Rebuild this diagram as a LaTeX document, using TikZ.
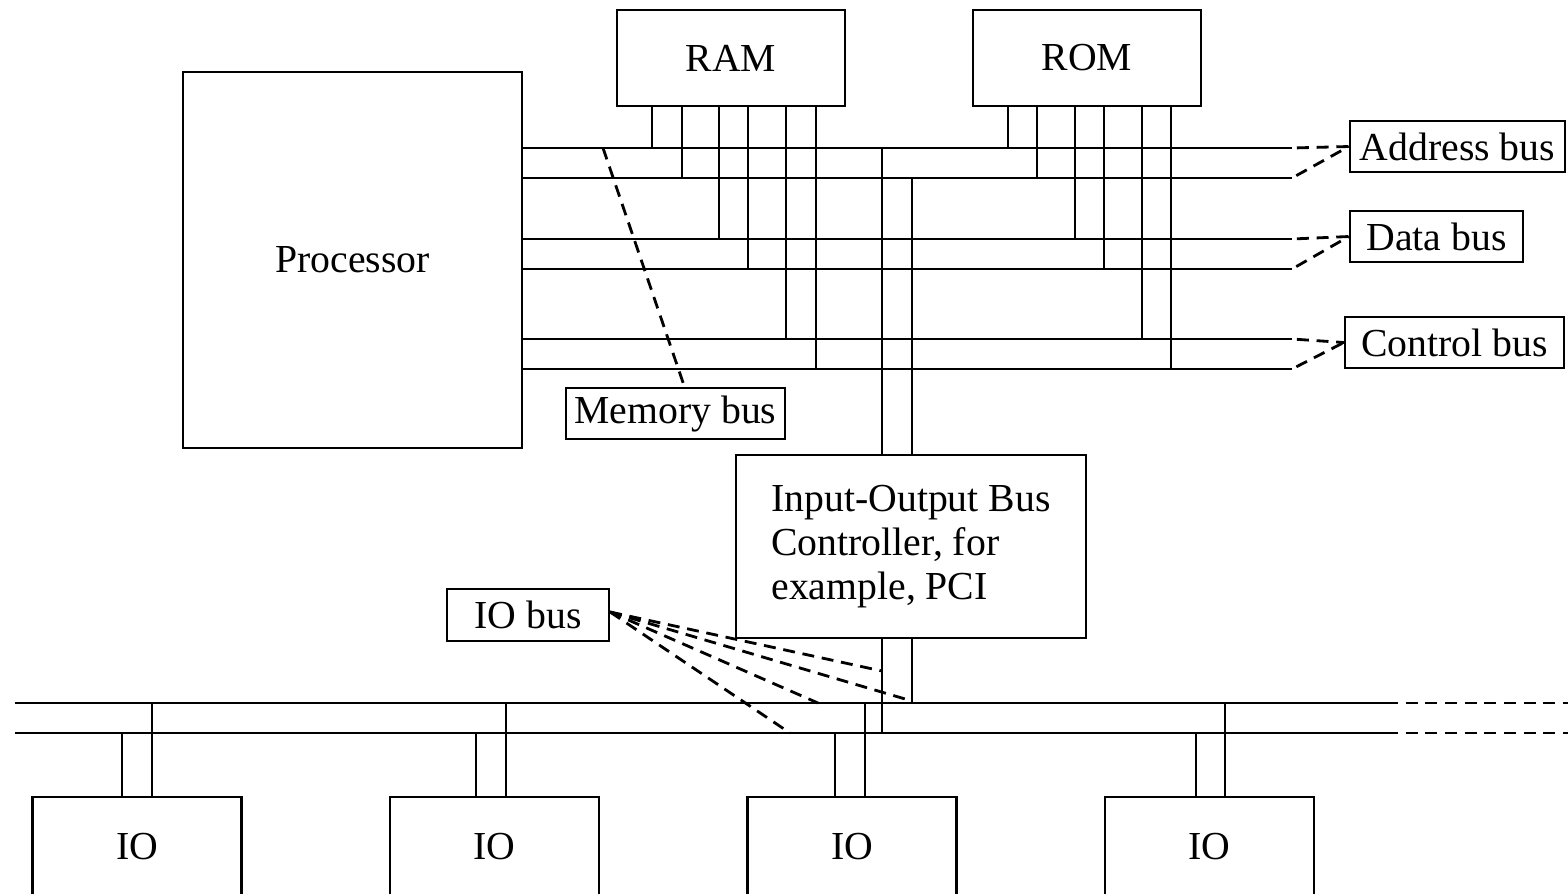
\documentclass[tikz,border=0pt]{standalone}
\usepackage{fontspec}
\setmainfont{Liberation Serif}

\begin{document}
\begin{tikzpicture}[x=0.1mm, y=-0.1mm, line width=0.65pt,
  every node/.style={font=\fontsize{11.3}{12.6}\selectfont},
  box/.style={draw, inner sep=0pt},
  tag/.style={draw, inner sep=0pt, minimum height=5.1mm},
  hint/.style={line width=0.8pt, dash pattern=on 3.4pt off 2.2pt}]

  \clip (0,0) rectangle (1568,893);

  % Blocks
  \node[box, minimum width=33.9mm, minimum height=37.6mm] (proc) at (352.5,260) {Processor};
  \node[box, minimum width=22.8mm, minimum height=9.6mm] (ram) at (731,58) {RAM};
  \node[box, minimum width=22.8mm, minimum height=9.6mm] (rom) at (1087,58) {ROM};
  \node[box, minimum width=35mm, minimum height=18.3mm, align=left] (ioctl) at (911,546.5)
    {Input-Output Bus\\Controller, for\\example, PCI};
  \node[box, minimum width=20.9mm, minimum height=10mm] (io1) at (137,847) {IO};
  \node[box, minimum width=20.9mm, minimum height=10mm] (io2) at (494.5,847) {IO};
  \node[box, minimum width=20.9mm, minimum height=10mm] (io3) at (852,847) {IO};
  \node[box, minimum width=20.9mm, minimum height=10mm] (io4) at (1209.5,847) {IO};

  % Labels
  \node[tag, minimum width=21.5mm] (addr) at (1457.5,146.5) {Address bus};
  \node[tag, minimum width=17.3mm] (data) at (1436.5,236.5) {Data bus};
  \node[tag, minimum width=21.9mm] (ctrl) at (1454.5,342.5) {Control bus};
  \node[tag, minimum width=21.9mm] (membus) at (675.5,413.5) {Memory bus};
  \node[tag, minimum width=16.2mm, minimum height=5.2mm] (iobus) at (528,615) {IO bus};

  % Memory bus lines
  \foreach \y [count=\i] in {148,178,239,269,339,369}
    \coordinate (b\i) at (1292,\y);
  \foreach \i in {1,...,6}
    \draw (proc.east |- b\i) -- (b\i);
  \foreach \x [count=\i] in {652,682,719,748,786,816}
    \draw (ram.south -| \x,0) -- (\x,0 |- b\i);
  \foreach \x [count=\i] in {1008,1037,1075,1104,1142,1171}
    \draw (rom.south -| \x,0) -- (\x,0 |- b\i);

  % IO bus lines
  \coordinate (ul) at (15,703);
  \coordinate (ll) at (15,733);
  \coordinate (ur) at (1386,703);
  \coordinate (lr) at (1386,733);
  \coordinate (ue) at (1568,703);
  \coordinate (le) at (1568,733);
  \draw (ul) -- (ur);
  \draw (ll) -- (lr);
  \draw[hint] (ur) -- (ue);
  \draw[hint] (lr) -- (le);

  % Controller taps
  \draw (882,0 |- b1) -- (ioctl.north -| 882,0);
  \draw (912,0 |- b2) -- (ioctl.north -| 912,0);
  \draw (ioctl.south -| 882,0) -- (882,0 |- ll);
  \draw (ioctl.south -| 912,0) -- (912,0 |- ul);

  % IO taps
  \foreach \n/\a/\b in {io1/122/152, io2/476/506, io3/835/865, io4/1196/1225} {
    \draw (\n.north -| \a,0) -- (\a,0 |- ll);
    \draw (\n.north -| \b,0) -- (\b,0 |- ul);
  }

  % Dashed pointers
  \draw[hint, shorten <=1.4pt] (b1) -- (addr.west);
  \draw[hint, shorten <=1.4pt] (b2) -- (addr.west);
  \draw[hint, shorten <=1.4pt] (b3) -- (data.west);
  \draw[hint, shorten <=1.4pt] (b4) -- (data.west);
  \draw[hint, shorten <=1.4pt] (b5) -- (ctrl.west);
  \draw[hint, shorten <=1.4pt] (b6) -- (ctrl.west);
  \coordinate (mtap) at (603,148);
  \draw[hint] (mtap) -- ([xshift=0.9mm]membus.north);
  \coordinate (t1) at (882,671);
  \coordinate (t2) at (912,701);
  \coordinate (t3) at (818,703);
  \coordinate (t4) at (790,733);
  \foreach \t in {t1,t2,t3,t4}
    \draw[hint] ([yshift=0.3mm]iobus.east) -- (\t);
\end{tikzpicture}
\end{document}
